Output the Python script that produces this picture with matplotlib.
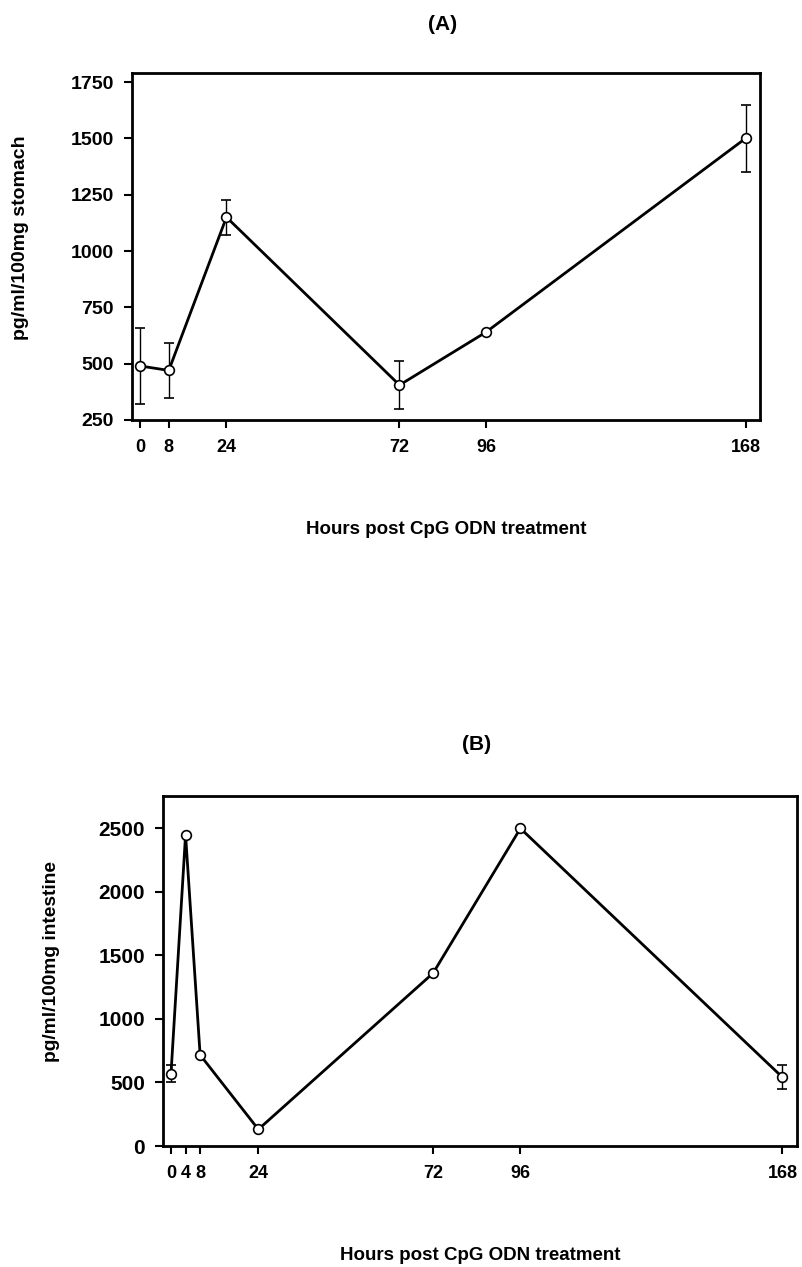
import numpy as np
import matplotlib
matplotlib.use('Agg')
import matplotlib.pyplot as plt

# panel A: stomach
hours_a = [0, 8, 24, 72, 96, 168]
stomach = [490, 470, 1150, 405, 640, 1500]
stomach_err = [170, 123, 77, 108, 0, 148]

# panel B: intestine
hours_b = [0, 4, 8, 24, 72, 96, 168]
intestine = [570, 2450, 717, 131, 1360, 2500, 541]
intestine_err = [70, 0, 0, 0, 0, 0, 93]

xlabel = 'Hours post CpG ODN treatment'

plt.rcParams['font.family'] = ['Liberation Sans', 'DejaVu Sans']
plt.rcParams['font.weight'] = 'bold'

fig = plt.figure(figsize=(8.02, 12.67), dpi=100)
W, H = 802, 1267


def px_axes(l, t, r, b):
    return fig.add_axes([l / W, 1 - b / H, (r - l) / W, (b - t) / H])


def px_text(x, y, s, **kw):
    fig.text(x / W, 1 - y / H, s, ha='center', va='center', fontweight='bold', **kw)


def draw(ax, x, y, err, yticks, ylim, ytick_size):
    ax.errorbar(x, y, yerr=err, color='black', lw=2.0, elinewidth=1.0,
                capsize=3.5, capthick=1.0, marker='o', ms=7,
                mfc='white', mec='black', mew=1.2, zorder=3)
    ax.set_xlim(-2.2, 172)
    ax.set_ylim(*ylim)
    ax.set_xticks(x)
    ax.set_xticklabels([str(v) for v in x], fontsize=13, fontweight='bold')
    ax.set_yticks(yticks)
    ax.set_yticklabels([str(v) for v in yticks], fontsize=ytick_size, fontweight='bold')
    ax.tick_params(direction='out', length=6, width=1.5, top=False, right=False)
    ax.tick_params(axis='x', pad=8)
    ax.tick_params(axis='y', pad=7)
    for s in ax.spines.values():
        s.set_linewidth(2)


ax1 = px_axes(132, 73, 760, 420)
draw(ax1, hours_a, stomach, stomach_err, np.arange(250, 1751, 250), (250, 1790), 14)
px_text(443, 24, '(A)', fontsize=15)
px_text(21, 238, 'pg/ml/100mg stomach', fontsize=14, rotation=90)
px_text(446, 530, xlabel, fontsize=13.5)

ax2 = px_axes(163, 796, 797, 1146)
draw(ax2, hours_b, intestine, intestine_err, np.arange(0, 2501, 500), (0, 2755), 15)
px_text(477, 745, '(B)', fontsize=15)
px_text(52, 962, 'pg/ml/100mg intestine', fontsize=13.8, rotation=90)
px_text(480, 1256, xlabel, fontsize=13.5)

fig.savefig('out.png', dpi=100)
